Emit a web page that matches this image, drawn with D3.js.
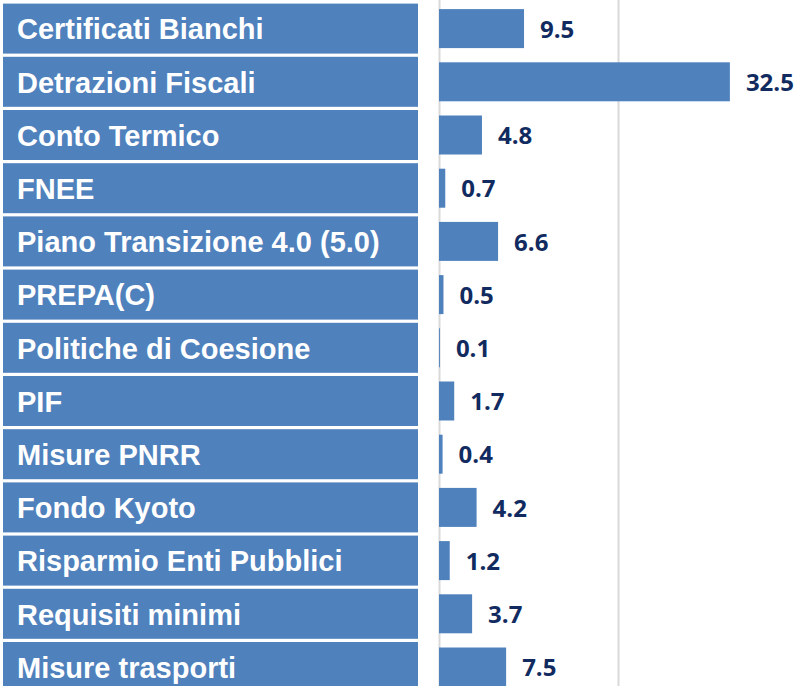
<!DOCTYPE html>
<html>
<head>
<meta charset="utf-8">
<script src="https://cdn.jsdelivr.net/npm/d3@7"></script>
<style>
  body { margin: 0; background: #fff; }
  svg { display: block; }
  .cat { font-family: "Liberation Sans", Arial, sans-serif; font-weight: bold; fill: #fff; }
  .val { font-family: "Open Sans", sans-serif; font-weight: bold; fill: #112b60; }
</style>
</head>
<body>
<svg id="chart"></svg>
<script>
const categories = [
  "Certificati Bianchi", "Detrazioni Fiscali", "Conto Termico", "FNEE",
  "Piano Transizione 4.0 (5.0)", "PREPA(C)", "Politiche di Coesione", "PIF",
  "Misure PNRR", "Fondo Kyoto", "Risparmio Enti Pubblici", "Requisiti minimi",
  "Misure trasporti"
];
const values = [9.5, 32.5, 4.8, 0.7, 6.6, 0.5, 0.1, 1.7, 0.4, 4.2, 1.2, 3.7, 7.5];
const gridTicks = [0, 20, 40];

const w = 796, h = 686;
const BLUE = '#4f81bd';
const ROW = 53.2;

const chart = d3.select('#chart')
  .attr('width', w)
  .attr('height', h);

// rows shared by the label boxes and the bars (outer = inner/2 keeps the step)
const rowScale = d3.scaleBand()
  .domain(categories)
  .range([2, 2 + categories.length * ROW]);

const boxScale = rowScale.copy().paddingInner(0.06).paddingOuter(0.03);
const barScale = rowScale.copy().paddingInner(0.267).paddingOuter(0.1335);

const xScale = d3.scaleLinear()
  .domain([0, 40])
  .range([439, 797]);

// gridlines
const grid = chart.append('g')
  .attr('transform', `translate(0, ${h})`)
  .call(d3.axisTop(xScale).tickValues(gridTicks).tickSize(h).tickFormat(''));
grid.select('.domain').remove();
grid.selectAll('.tick line')
  .attr('stroke', '#d9d9d9')
  .attr('stroke-width', 2);

// label boxes on the left
chart.selectAll('rect.box')
  .data(categories)
  .join('rect')
  .attr('class', 'box')
  .attr('x', 3)
  .attr('y', d => boxScale(d))
  .attr('width', 415)
  .attr('height', boxScale.bandwidth())
  .style('fill', BLUE);

chart.selectAll('text.cat')
  .data(categories)
  .join('text')
  .attr('class', 'cat')
  .attr('x', 17)
  .attr('y', d => rowScale(d) + rowScale.bandwidth() / 2)
  .attr('dy', '0.37em')
  .style('font-size', '29px')
  .text(d => d);

// bars
chart.selectAll('rect.bar')
  .data(values)
  .join('rect')
  .attr('class', 'bar')
  .attr('x', xScale(0))
  .attr('y', (d, i) => barScale(categories[i]))
  .attr('width', d => xScale(d) - xScale(0))
  .attr('height', barScale.bandwidth())
  .style('fill', BLUE);

chart.selectAll('text.val')
  .data(values)
  .join('text')
  .attr('class', 'val')
  .attr('x', d => xScale(d) + 16)
  .attr('y', (d, i) => rowScale(categories[i]) + rowScale.bandwidth() / 2)
  .attr('dy', '0.38em')
  .style('font-size', '24px')
  .text(d => d.toFixed(1));
</script>
</body>
</html>
